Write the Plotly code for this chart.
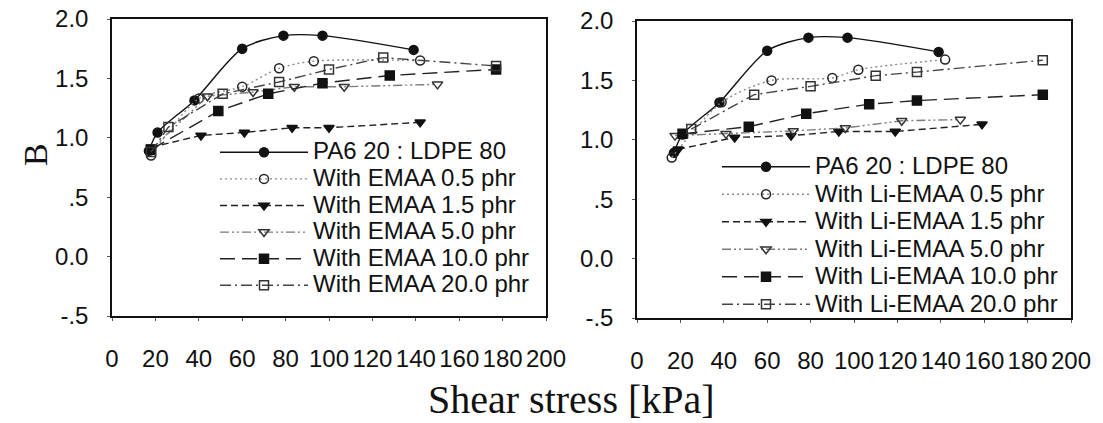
import plotly.graph_objects as go

# ---------------- data ----------------
# Left panel: PA6/LDPE with EMAA
pa6_x = [17, 21, 38, 60, 79, 97, 139]
pa6_b = [0.89, 1.045, 1.315, 1.75, 1.86, 1.86, 1.74]

emaa05_x = [18, 40, 60, 77, 93, 142]
emaa05_b = [0.85, 1.33, 1.43, 1.585, 1.645, 1.65]
emaa15_x = [18, 41, 61, 83, 100, 142]
emaa15_b = [0.92, 1.02, 1.045, 1.085, 1.085, 1.13]
emaa50_x = [18, 44, 65, 84, 107, 150]
emaa50_b = [0.9, 1.35, 1.385, 1.43, 1.43, 1.45]
emaa100_x = [18, 49, 72, 97, 128, 177]
emaa100_b = [0.9, 1.225, 1.37, 1.46, 1.525, 1.575]
emaa200_x = [18, 26, 51, 77, 100, 125, 177]
emaa200_b = [0.88, 1.09, 1.37, 1.47, 1.575, 1.675, 1.605]

# Right panel: PA6/LDPE with Li-EMAA
li05_x = [16, 39, 62, 90, 102, 142]
li05_b = [0.85, 1.316, 1.5, 1.52, 1.59, 1.675]
li15_x = [19, 45, 71, 93, 119, 159]
li15_b = [0.92, 1.02, 1.035, 1.07, 1.07, 1.13]
li50_x = [17.5, 41, 72, 96, 122, 149]
li50_b = [1.035, 1.05, 1.075, 1.1, 1.16, 1.17]
li100_x = [21, 51.5, 78, 107, 129, 187]
li100_b = [1.05, 1.11, 1.22, 1.30, 1.33, 1.38]
li200_x = [25, 54, 80, 110, 129, 187]
li200_b = [1.09, 1.38, 1.45, 1.54, 1.57, 1.67]

left_names = ["PA6 20 : LDPE 80", "With EMAA 0.5 phr", "With EMAA 1.5 phr",
              "With EMAA 5.0 phr", "With EMAA 10.0 phr", "With EMAA 20.0 phr"]
right_names = ["PA6 20 : LDPE 80", "With Li-EMAA 0.5 phr", "With Li-EMAA 1.5 phr",
               "With Li-EMAA 5.0 phr", "With Li-EMAA 10.0 phr", "With Li-EMAA 20.0 phr"]

x_ticks = [0, 20, 40, 60, 80, 100, 120, 140, 160, 180, 200]
y_ticks = [-0.5, 0.0, 0.5, 1.0, 1.5, 2.0]
y_ticktext = ["-.5", "0.0", ".5", "1.0", "1.5", "2.0"]

# ---------------- styles ----------------
styles = [
    dict(dash="solid", lc="#111111", sym="circle", mc="#111111", shape="spline"),
    dict(dash="2px,3px", lc="#8a8a8a", sym="circle-open", mc="#222222", shape="spline"),
    dict(dash="7px,4px", lc="#222222", sym="triangle-down", mc="#111111", shape="linear"),
    dict(dash="9px,3px,2px,3px,2px,3px", lc="#7a7a7a", sym="triangle-down-open", mc="#333333", shape="linear"),
    dict(dash="15px,7px", lc="#222222", sym="square", mc="#111111", shape="linear"),
    dict(dash="11px,4px,2px,4px", lc="#444444", sym="square-open", mc="#333333", shape="linear"),
]

left_series = [(pa6_x, pa6_b), (emaa05_x, emaa05_b), (emaa15_x, emaa15_b),
               (emaa50_x, emaa50_b), (emaa100_x, emaa100_b), (emaa200_x, emaa200_b)]
right_series = [(pa6_x, pa6_b), (li05_x, li05_b), (li15_x, li15_b),
                (li50_x, li50_b), (li100_x, li100_b), (li200_x, li200_b)]

LEG_TEXT = 24


def leg_label(s):
    return "<span style='font-size:%dpx'>%s</span>" % (LEG_TEXT, s)


fig = go.Figure()

for panel, series, names in (("1", left_series, left_names), ("2", right_series, right_names)):
    for (xs, ys), name, st in zip(series, names, styles):
        fig.add_trace(go.Scatter(
            x=xs, y=ys, name=leg_label(name), mode="lines+markers",
            line=dict(color=st["lc"], width=1.4, dash=st["dash"], shape=st["shape"], smoothing=0.8),
            marker=dict(symbol=st["sym"], size=9, color=st["mc"], line=dict(color=st["mc"], width=1.5)),
            xaxis="x" if panel == "1" else "x2",
            yaxis="y" if panel == "1" else "y2",
            legend="legend" if panel == "1" else "legend2"))

W, H = 1103, 423
tick_font = dict(family="Liberation Sans, Arial, sans-serif", size=24, color="#111111")


def xa(domain, anchor):
    return dict(domain=domain, anchor=anchor, range=[0, 200], tickvals=x_ticks,
                showline=True, mirror=True, linecolor="#111111", linewidth=1.5,
                ticks="outside", ticklen=3, tickcolor="#555555", showgrid=False,
                zeroline=False, tickfont=tick_font, ticklabelstandoff=17)


def ya(domain, anchor):
    return dict(domain=domain, anchor=anchor, range=[-0.5, 2.0], tickvals=y_ticks,
                ticktext=y_ticktext, showline=True, mirror=True, linecolor="#111111",
                linewidth=1.5, ticks="outside", ticklen=3, tickcolor="#555555",
                showgrid=False, zeroline=False, tickfont=tick_font, ticklabelstandoff=14)


leg_font_l = dict(family="Liberation Sans, Arial, sans-serif", size=18.15, color="#111111")
leg_font_r = dict(family="Liberation Sans, Arial, sans-serif", size=18.85, color="#111111")
serif = "Liberation Serif, Times New Roman, serif"

fig.update_layout(
    width=W, height=H, margin=dict(l=0, r=0, t=0, b=0, autoexpand=False),
    paper_bgcolor="white", plot_bgcolor="white",
    xaxis=xa([112 / W, 546 / W], "y"),
    yaxis=ya([1 - 316 / H, 1 - 19 / H], "x"),
    xaxis2=xa([637 / W, 1071 / W], "y2"),
    yaxis2=ya([1 - 318 / H, 1 - 21 / H], "x2"),
    legend=dict(x=215 / W, y=1 - 134 / H, xanchor="left", yanchor="top",
                bgcolor="rgba(0,0,0,0)", font=leg_font_l, itemwidth=88,
                tracegroupgap=0, itemclick=False),
    legend2=dict(x=717 / W, y=1 - 148 / H, xanchor="left", yanchor="top",
                 bgcolor="rgba(0,0,0,0)", font=leg_font_r, itemwidth=88,
                 tracegroupgap=0, itemclick=False),
    annotations=[
        dict(text="B", x=35 / W, y=1 - 155 / H, xref="paper", yref="paper",
             xanchor="center", yanchor="middle", showarrow=False, textangle=-90,
             font=dict(family=serif, size=34, color="#111111")),
        dict(text="Shear stress [kPa]", x=571 / W, y=1 - 399 / H, xref="paper", yref="paper",
             xanchor="center", yanchor="middle", showarrow=False,
             font=dict(family=serif, size=40, color="#111111")),
    ],
    showlegend=True,
)

fig.write_html("out.html")
